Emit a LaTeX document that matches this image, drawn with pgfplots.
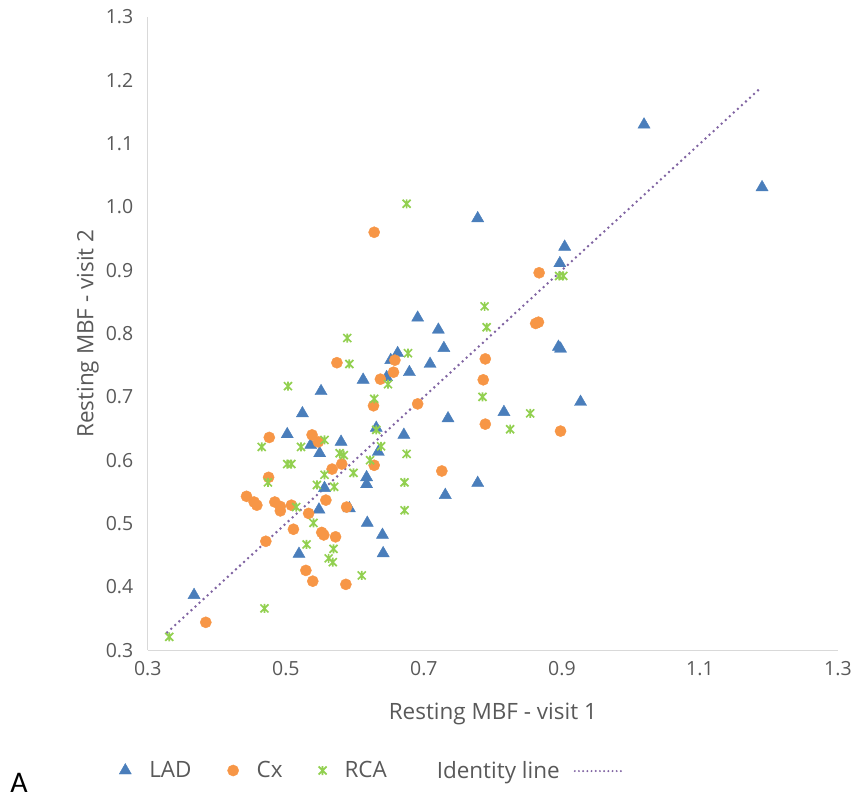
\documentclass[border=0pt]{standalone}
\usepackage{fontspec}
\setmainfont{Open Sans}
\newfontfamily\calib{Carlito}
\usepackage{pgfplots}
\pgfplotsset{compat=1.18}
\definecolor{ladblue}{HTML}{4A7EBB}
\definecolor{cxorange}{HTML}{F79646}
\definecolor{rcagreen}{HTML}{92D050}
\definecolor{idpurple}{HTML}{8064A2}
\definecolor{txtgray}{HTML}{595959}
\definecolor{axgray}{HTML}{D9D9D9}
\pgfdeclareplotmark{xstar}{%
  \pgfpathmoveto{\pgfqpoint{-0.8\pgfplotmarksize}{-0.8\pgfplotmarksize}}%
  \pgfpathlineto{\pgfqpoint{0.8\pgfplotmarksize}{0.8\pgfplotmarksize}}%
  \pgfpathmoveto{\pgfqpoint{-0.8\pgfplotmarksize}{0.8\pgfplotmarksize}}%
  \pgfpathlineto{\pgfqpoint{0.8\pgfplotmarksize}{-0.8\pgfplotmarksize}}%
  \pgfpathmoveto{\pgfqpoint{0pt}{-0.9\pgfplotmarksize}}%
  \pgfpathlineto{\pgfqpoint{0pt}{0.9\pgfplotmarksize}}%
  \pgfusepathqstroke}
\begin{document}
\begin{tikzpicture}
\begin{axis}[
  scale only axis,
  width=691bp, height=634bp,
  xmin=0.3, xmax=1.3, ymin=0.3, ymax=1.3,
  axis lines=left,
  axis line style={-, draw=axgray, line width=1.2bp},
  xtick={0.3,0.5,0.7,0.9,1.1,1.3},
  ytick={0.3,0.4,0.5,0.6,0.7,0.8,0.9,1.0,1.1,1.2,1.3},
  major tick length=0pt,
  /pgf/number format/.cd, fixed, fixed zerofill, precision=1, assume math mode=true,
  /pgfplots/.cd,
  tick label style={font=\fontsize{19.5bp}{23bp}\selectfont, text=txtgray},
  xticklabel style={yshift=-8bp},
  yticklabel style={xshift=-11bp},
  xlabel={Resting MBF - visit 1},
  ylabel={Resting MBF - visit 2},
  label style={font=\fontsize{22.5bp}{26bp}\selectfont, text=txtgray},
  xlabel style={at={(axis description cs:0.5,-0.1)}, anchor=center},
  ylabel style={at={(axis description cs:-0.087,0.5)}, anchor=center, rotate=0},
  clip=false,
  legend columns=4,
  legend style={at={(axis description cs:-0.046,-0.19)}, anchor=west, draw=none, fill=none,
    font=\fontsize{22.5bp}{26bp}\selectfont, text=txtgray,
    /tikz/every odd column/.append style={column sep=16bp},
    /tikz/every even column/.append style={column sep=34bp}},
  legend cell align=left,
]
\addplot[only marks, mark=triangle*, mark size=7bp, color=ladblue] coordinates {
(0.367,0.387) (1.019,1.130) (1.190,1.031) (0.778,0.982) (0.904,0.937) (0.897,0.911)
(0.721,0.806) (0.729,0.777) (0.895,0.779) (0.898,0.776) (0.709,0.752) (0.927,0.692)
(0.816,0.676) (0.735,0.666) (0.691,0.825) (0.652,0.758) (0.662,0.769) (0.679,0.739)
(0.646,0.731) (0.612,0.727) (0.580,0.629) (0.631,0.651) (0.671,0.640) (0.634,0.613)
(0.617,0.573) (0.617,0.562) (0.731,0.545) (0.778,0.564) (0.592,0.524) (0.618,0.501)
(0.640,0.482) (0.641,0.453) (0.551,0.709) (0.524,0.674) (0.502,0.641) (0.536,0.624)
(0.549,0.611) (0.556,0.556) (0.548,0.522) (0.519,0.452)
};
\addlegendentry{LAD}
\addplot[only marks, mark=*, mark size=5.6bp, color=cxorange] coordinates {
(0.867,0.896) (0.862,0.816) (0.866,0.818) (0.789,0.760) (0.786,0.727) (0.789,0.657)
(0.898,0.646) (0.574,0.754) (0.658,0.758) (0.656,0.739) (0.637,0.728) (0.627,0.686)
(0.691,0.689) (0.628,0.592) (0.581,0.594) (0.726,0.583) (0.588,0.526) (0.587,0.404)
(0.628,0.960) (0.476,0.636) (0.538,0.640) (0.547,0.629) (0.567,0.586) (0.475,0.573)
(0.558,0.537) (0.443,0.543) (0.454,0.534) (0.458,0.529) (0.484,0.534) (0.492,0.527)
(0.492,0.520) (0.508,0.529) (0.533,0.516) (0.511,0.491) (0.552,0.486) (0.555,0.482)
(0.572,0.479) (0.471,0.472) (0.529,0.426) (0.539,0.409) (0.384,0.344)
};
\addlegendentry{Cx}
\addplot[only marks, mark=xstar, mark size=5bp, color=rcagreen, mark options={line width=1.7bp}] coordinates {
(0.896,0.891) (0.902,0.891) (0.788,0.843) (0.791,0.810) (0.785,0.700) (0.854,0.674)
(0.825,0.649) (0.589,0.793) (0.592,0.752) (0.677,0.769) (0.648,0.720) (0.628,0.697)
(0.631,0.648) (0.638,0.622) (0.584,0.608) (0.675,0.610) (0.622,0.600) (0.598,0.580)
(0.672,0.565) (0.672,0.521) (0.610,0.418) (0.675,1.005) (0.503,0.717) (0.465,0.621)
(0.522,0.621) (0.556,0.632) (0.578,0.611) (0.502,0.594) (0.508,0.594) (0.474,0.565)
(0.556,0.577) (0.545,0.561) (0.570,0.558) (0.515,0.526) (0.540,0.501) (0.530,0.467)
(0.569,0.460) (0.562,0.445) (0.568,0.439) (0.469,0.366) (0.331,0.321)
};
\addlegendentry{RCA}
\addplot[forget plot, color=idpurple, line width=2.8bp, line cap=round, dash pattern=on 0pt off 5.5bp] coordinates {(0.328,0.328) (1.185,1.185)};
\addlegendimage{empty legend}
\addlegendentry{\hspace{-4bp}Identity line\hspace{14bp}\tikz[baseline=-0.6ex]\draw[color=idpurple, line width=2.2bp, line cap=round, dash pattern=on 0pt off 4.2bp] (0,0)--(50bp,0);}
\coordinate (O) at (rel axis cs:0,0);
\end{axis}
\path (O) ++(-148bp,-148bp) rectangle ++(855bp,799bp);
\node[anchor=base, inner sep=0pt, text=black, font=\calib\fontsize{30bp}{32bp}\selectfont] at ([xshift=-129bp,yshift=-142bp]O) {A};
\end{tikzpicture}
\end{document}
